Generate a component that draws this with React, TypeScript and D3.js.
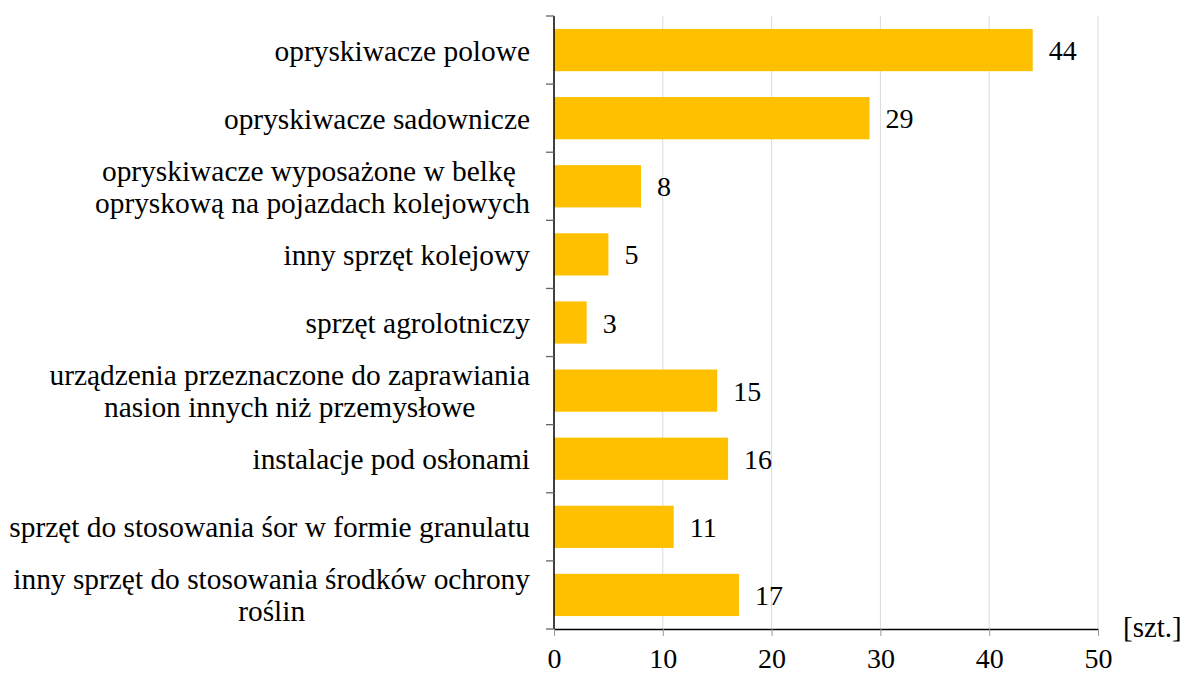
import * as React from "react"
import * as d3 from "d3"

const categories = [
  ["opryskiwacze polowe"],
  ["opryskiwacze sadownicze"],
  ["opryskiwacze wyposażone w belkę ", "opryskową na pojazdach kolejowych"],
  ["inny sprzęt kolejowy"],
  ["sprzęt agrolotniczy"],
  ["urządzenia przeznaczone do zaprawiania", "nasion innych niż przemysłowe"],
  ["instalacje pod osłonami"],
  ["sprzęt do stosowania śor w formie granulatu"],
  ["inny sprzęt do stosowania środków ochrony", "roślin"],
]
const values = [44, 29, 8, 5, 3, 15, 16, 11, 17]
const xTicks = [0, 10, 20, 30, 40, 50]
const unitLabel = "[szt.]"

const FONT = "Liberation Serif"

function render(svgRef: React.RefObject<SVGSVGElement>) {
  const width = 1182
  const height = 674
  const margin = { top: 16, right: 84, bottom: 45, left: 554 }
  const w = width - margin.left - margin.right
  const h = height - margin.top - margin.bottom

  const svg = d3
    .select(svgRef.current)
    .attr("width", width)
    .attr("height", height)
  svg.selectAll("*").remove()

  const g = svg
    .append("g")
    .attr("transform", `translate(${margin.left},${margin.top})`)

  const x = d3.scaleLinear().domain([0, 50]).range([0, w])
  const ids = categories.map((_d, i) => String(i))
  const y = d3.scaleBand().domain(ids).range([0, h]).paddingInner(0.38).paddingOuter(0.19)
  const step = h / categories.length

  // gridlines
  g.selectAll(".grid")
    .data(xTicks.filter((t) => t > 0))
    .join("line")
    .attr("class", "grid")
    .attr("x1", (d) => x(d))
    .attr("x2", (d) => x(d))
    .attr("y1", 0)
    .attr("y2", h)
    .attr("stroke", "#d9d9d9")
    .attr("stroke-width", 1)

  // bars
  g.selectAll(".bar")
    .data(values)
    .join("rect")
    .attr("class", "bar")
    .attr("x", 0)
    .attr("y", (_d, i) => y(String(i)) as number)
    .attr("width", (d) => x(d))
    .attr("height", y.bandwidth())
    .attr("fill", "#ffc000")

  // value labels
  g.selectAll(".val")
    .data(values)
    .join("text")
    .attr("class", "val")
    .attr("x", (d) => x(d) + 16)
    .attr("y", (_d, i) => (y(String(i)) as number) + y.bandwidth() / 2 + 10)
    .attr("font-family", FONT)
    .attr("font-size", 28)
    .attr("fill", "#000")
    .text((d) => d)

  // x axis
  const xAxis = g
    .append("g")
    .attr("transform", `translate(0,${h})`)
    .call(d3.axisBottom(x).tickValues(xTicks).tickSize(7).tickSizeOuter(0))
  xAxis.select(".domain").attr("stroke", "#000").attr("stroke-width", 1.3)
  xAxis.selectAll(".tick line").attr("stroke", "#999")
  xAxis
    .selectAll(".tick text")
    .attr("font-family", FONT)
    .attr("font-size", 28)
    .attr("fill", "#000")
    .attr("dy", null)
    .attr("y", 39)

  // y axis line + ticks at band boundaries
  g.append("line")
    .attr("x1", 0)
    .attr("x2", 0)
    .attr("y1", 0)
    .attr("y2", h)
    .attr("stroke", "#000")
    .attr("stroke-width", 1.5)
  g.selectAll(".ytick")
    .data(d3.range(categories.length + 1))
    .join("line")
    .attr("class", "ytick")
    .attr("x1", -8)
    .attr("x2", 0)
    .attr("y1", (d) => d * step)
    .attr("y2", (d) => d * step)
    .attr("stroke", "#666")
    .attr("stroke-width", 1.3)

  // category labels (multi-line ones are centred in their block)
  const labelRight = -24
  categories.forEach((lines, i) => {
    const cy = (y(String(i)) as number) + y.bandwidth() / 2
    const lg = g.append("g")
    const texts = lines.map((line, j) =>
      lg
        .append("text")
        .attr("font-family", FONT)
        .attr("font-size", 29.4)
        .attr("fill", "#000")
        .style("white-space", "pre")
        .attr("y", cy + 10.5 + (j - (lines.length - 1) / 2) * 32)
        .text(line)
    )
    if (lines.length === 1) {
      texts[0].attr("x", labelRight).attr("text-anchor", "end")
    } else {
      const maxW = d3.max(texts, (t) => (t.node() as SVGTextElement).getComputedTextLength()) as number
      texts.forEach((t) => t.attr("x", labelRight - maxW / 2).attr("text-anchor", "middle"))
    }
  })

  // unit label
  g.append("text")
    .attr("x", w + 25)
    .attr("y", h + 8)
    .attr("font-family", FONT)
    .attr("font-size", 29)
    .attr("fill", "#000")
    .text(unitLabel)
}

export default function App(): React.JSX.Element {
  const svg = React.useRef<SVGSVGElement>(null)

  React.useEffect(() => {
    render(svg)
  }, [])

  return (
    <div style={{ position: "absolute", left: 0, top: 0 }}>
      <svg ref={svg} style={{ display: "block", background: "#fff" }}></svg>
    </div>
  )
}
